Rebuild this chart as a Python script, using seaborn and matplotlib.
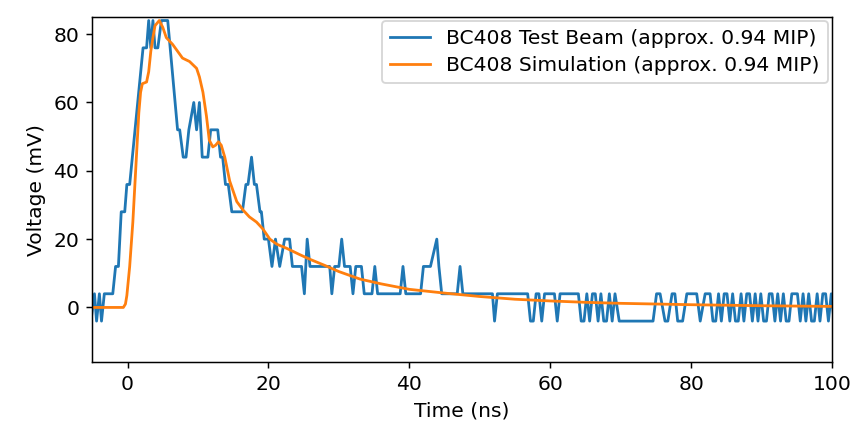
# BC408 pulse: test beam vs simulation
import matplotlib
matplotlib.use("Agg")
import matplotlib.pyplot as plt
import seaborn as sns
import pandas as pd

# Test beam trace (vertices, mV levels are 4 + 8k)
beam_t = [-5.2, -4.7, -4.4, -4.0, -3.7, -3.3, -2.1, -1.7, -1.3, -0.9, -0.4, -0.1, 0.3,
          2.2, 2.7, 3.0, 3.3, 3.6, 3.9, 4.3, 4.8, 5.7, 7.1, 7.4, 7.9, 8.3, 8.7, 9.4, 9.8,
          10.2, 10.6, 11.4, 11.8, 12.8, 13.2, 13.5, 13.9, 14.3, 14.8, 16.3, 16.8, 17.1,
          17.6, 18.0, 18.3, 18.8, 19.0, 19.4, 20.0, 20.5, 21.0, 21.6, 22.3, 23.0, 23.4,
          24.7, 25.1, 25.5, 25.9, 28.7, 29.0, 29.4, 30.0, 30.4, 30.8, 31.6, 32.0, 32.4,
          33.2, 33.6, 34.7, 35.1, 35.5, 38.7, 39.1, 39.5, 41.6, 42.0, 43.0, 43.9, 44.2,
          44.6, 46.8, 47.2, 47.6, 51.8, 52.1, 52.5, 56.8, 57.2, 57.6, 58.0, 58.4, 58.8,
          59.2, 60.6, 61.0, 61.4, 64.0, 64.4, 64.8, 65.2, 65.6, 66.0, 66.4, 66.8, 67.2,
          67.6, 68.0, 68.4, 68.8, 69.2, 69.8, 74.6, 75.1, 75.6, 76.3, 76.7, 77.3, 77.7,
          78.1, 78.8, 79.4, 80.8, 81.3, 82.0, 82.7, 83.1, 83.5, 83.9, 84.3, 84.7, 85.1,
          85.5, 85.9, 86.3, 86.7, 87.1, 87.5, 87.9, 88.3, 88.7, 89.1, 89.5, 89.9, 90.3,
          90.7, 91.1, 91.5, 91.9, 92.3, 92.7, 93.1, 93.5, 93.9, 94.3, 95.1, 95.5, 95.9,
          96.3, 96.7, 97.1, 97.5, 97.9, 98.3, 98.7, 99.1, 99.5, 99.9, 100.3]
beam_v = [-4, 4, -4, 4, -4, 4, 4, 12, 12, 28, 28, 36, 36,
          76, 76, 84, 76, 84, 76, 76, 84, 84, 52, 52, 44, 44, 52, 60, 52,
          60, 44, 44, 52, 52, 44, 44, 36, 36, 28, 28, 36, 36,
          44, 36, 36, 28, 28, 20, 20, 12, 20, 12, 20, 20, 12,
          12, 4, 20, 12, 12, 4, 12, 12, 20, 12, 12, 4, 12,
          12, 4, 4, 12, 4, 4, 12, 4, 4, 12, 12, 20, 12,
          4, 4, 12, 4, 4, -4, 4, 4, -4, -4, 4, 4, -4,
          4, 4, -4, 4, 4, -4, -4, 4, -4, 4, 4, -4, 4,
          -4, -4, 4, -4, 4, -4, -4, 4, 4, -4, -4, 4, 4,
          -4, -4, 4, 4, -4, 4, 4, -4, -4, 4, -4, 4, 4,
          -4, 4, -4, -4, 4, -4, 4, 4, -4, 4, -4, 4, -4,
          -4, 4, 4, -4, 4, -4, 4, -4, -4, 4, 4, -4, 4,
          -4, 4, -4, -4, 4, -4, 4, 4, -4, 4, -4]

# Simulated pulse
sim_t = [-5, -0.6, -0.3, -0.1, 0.3, 0.75, 1.2, 1.6, 1.85, 2.1, 2.7, 3.0, 3.3, 3.6, 3.9,
         4.5, 5.0, 5.5, 6.4, 7.1, 7.8, 8.8, 9.8, 10.2, 10.7, 11.2, 11.6, 12.1, 12.5,
         12.9, 13.3, 13.8, 14.5, 15.5, 16.4, 17.3, 18.3, 19.2, 20.2, 21.2, 22.6, 24.4,
         26, 28, 30, 33, 36, 40, 45, 50, 55, 60, 65, 70, 80, 90, 100]
sim_v = [0, 0, 1, 3.5, 12, 25, 42, 57, 63, 65.5, 66, 69, 75, 79, 82.5,
         84, 82, 79, 77, 75, 73, 72, 70, 67.5, 63, 56, 49, 47, 47.5,
         48.5, 47.5, 44, 37, 31, 28.5, 26.5, 25, 23, 20, 18.5, 17.3, 15.5,
         14, 12.3, 10.5, 8.3, 6.9, 5.3, 4.2, 3.2, 2.4, 1.9, 1.5, 1.2, 0.8, 0.5, 0.3]

beam = pd.DataFrame({"t": beam_t, "v": beam_v})
sim = pd.DataFrame({"t": sim_t, "v": sim_v})

plt.rcParams["font.size"] = 10.9

fig, ax = plt.subplots(figsize=(6.4, 3.2037), dpi=133.6)
fig.subplots_adjust(left=0.108, right=0.973, bottom=0.154, top=0.960)

sns.lineplot(data=beam, x="t", y="v", ax=ax, color="#1f77b4", estimator=None,
             sort=False, label="BC408 Test Beam (approx. 0.94 MIP)")
sns.lineplot(data=sim, x="t", y="v", ax=ax, color="#ff7f0e", estimator=None,
             sort=False, label="BC408 Simulation (approx. 0.94 MIP)")

ax.set_xlim(-5, 100)
ax.set_ylim(-16, 85)
ax.set_xlabel("Time (ns)")
ax.set_ylabel("Voltage (mV)")
ax.legend(loc="upper right", borderaxespad=0.2, labelspacing=0.4)

fig.savefig("out.png", dpi=133.6)
